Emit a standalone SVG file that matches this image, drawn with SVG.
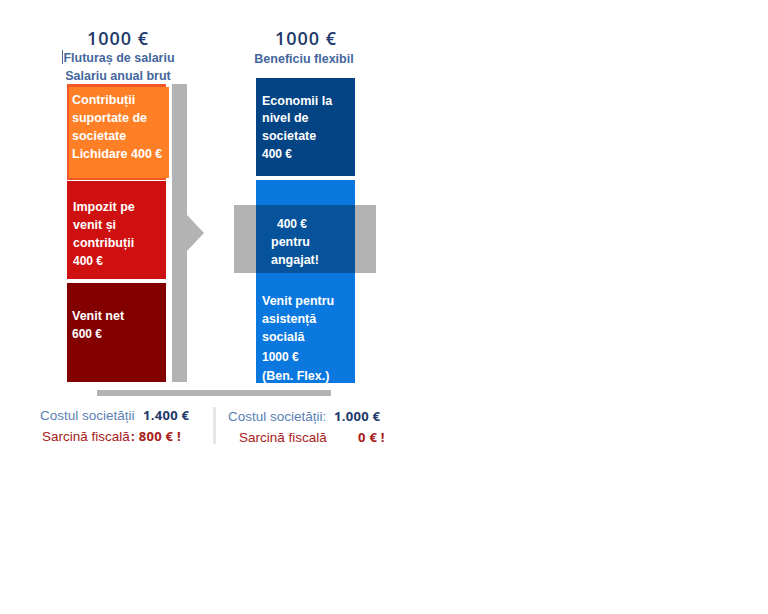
<svg xmlns="http://www.w3.org/2000/svg" width="768" height="614" viewBox="0 0 768 614">
<style>
.h{font-family:"Open Sans","Liberation Sans",Arial,sans-serif;font-size:18px;font-weight:600;fill:#1F3A6B;text-anchor:middle;letter-spacing:1px}
.s{font-family:"Liberation Sans",Arial,sans-serif;font-size:12.5px;font-weight:bold;fill:#44679E;text-anchor:middle}
.w{font-family:"Liberation Sans",Arial,sans-serif;font-size:12.5px;font-weight:bold;fill:#FFFFFF}
.ws{font-family:"Liberation Sans",Arial,sans-serif;font-size:12px;font-weight:bold;fill:#FFFFFF}
.c{font-family:"Liberation Sans",Arial,sans-serif;font-size:13.5px;fill:#5B7FB5}
.v{font-family:"Open Sans","Liberation Sans",Arial,sans-serif;font-size:13px;font-weight:bold;fill:#1F3A6B;letter-spacing:0.3px}
.r{font-family:"Liberation Sans",Arial,sans-serif;font-size:13.5px;fill:#A8201A}
.rb{font-family:"Open Sans","Liberation Sans",Arial,sans-serif;font-size:13px;font-weight:bold;fill:#A8201A;letter-spacing:0.3px}
</style>
<rect width="768" height="614" fill="#FFFFFF"/>
<g id="header-left">
<text class="h" x="118" y="45">1000 €</text>
<line x1="62.5" y1="50" x2="62.5" y2="64" stroke="#44679E" stroke-width="1"/>
<text class="s" x="119" y="62">Fluturaș de salariu</text>
<text class="s" x="118" y="80">Salariu anual brut</text>
</g>
<g id="header-right">
<text class="h" x="306" y="45">1000 €</text>
<text class="s" x="304" y="63">Beneficiu flexibil</text>
</g>
<g id="connectors">
<rect x="172" y="84" width="15" height="298" fill="#B3B3B3"/>
<polygon points="187,215 204,233 187,251" fill="#B3B3B3"/>
<rect x="97" y="390" width="234" height="6" fill="#B3B3B3"/>
<rect x="213" y="407" width="3" height="37" fill="#E6E6E6"/>
</g>
<g id="contributii">
<rect x="67" y="84" width="99" height="96" fill="#F05A22"/>
<rect x="69" y="87" width="100" height="91" fill="#FF7F27"/>
<text class="w" x="72" y="104">Contribuții</text>
<text class="w" x="72" y="122">suportate de</text>
<text class="w" x="72" y="140">societate</text>
<text class="w" x="72" y="158">Lichidare 400 €</text>
</g>
<g id="impozit">
<rect x="67" y="181" width="99" height="98" fill="#CF1010"/>
<text class="w" x="73" y="211">Impozit pe</text>
<text class="w" x="73" y="229">venit și</text>
<text class="w" x="73" y="247">contribuții</text>
<text class="ws" x="73" y="265">400 €</text>
</g>
<g id="venit-net">
<rect x="67" y="283" width="99" height="99" fill="#820000"/>
<text class="w" x="72" y="320">Venit net</text>
<text class="ws" x="72" y="338">600 €</text>
</g>
<g id="economii">
<rect x="256" y="78" width="99" height="98" fill="#034485"/>
<text class="w" x="262" y="105">Economii la</text>
<text class="w" x="262" y="122">nivel de</text>
<text class="w" x="262" y="140">societate</text>
<text class="ws" x="262" y="158">400 €</text>
</g>
<g id="venit-asistenta">
<rect x="256" y="180" width="99" height="203" fill="#0A78DE"/>
<text class="w" x="262" y="305">Venit pentru</text>
<text class="w" x="262" y="323">asistență</text>
<text class="w" x="262" y="341">socială</text>
<text class="ws" x="262" y="361">1000 €</text>
<text class="w" x="262" y="380">(Ben. Flex.)</text>
</g>
<g id="angajat">
<rect x="234" y="205" width="142" height="68" fill="#000000" fill-opacity="0.3"/>
<text class="ws" x="277" y="228">400 €</text>
<text class="w" x="271" y="246">pentru</text>
<text class="w" x="271" y="264">angajat!</text>
</g>
<g id="cost-left">
<text class="c" x="40" y="420">Costul societății</text>
<text class="v" x="143" y="420">1.400 €</text>
<text class="r" x="42" y="441">Sarcină fiscală</text>
<text class="rb" x="131" y="441">: 800 € !</text>
</g>
<g id="cost-right">
<text class="c" x="228" y="421">Costul societății:</text>
<text class="v" x="334" y="421">1.000 €</text>
<text class="r" x="239" y="442">Sarcină fiscală</text>
<text class="rb" x="358" y="442">0 € !</text>
</g>
</svg>
